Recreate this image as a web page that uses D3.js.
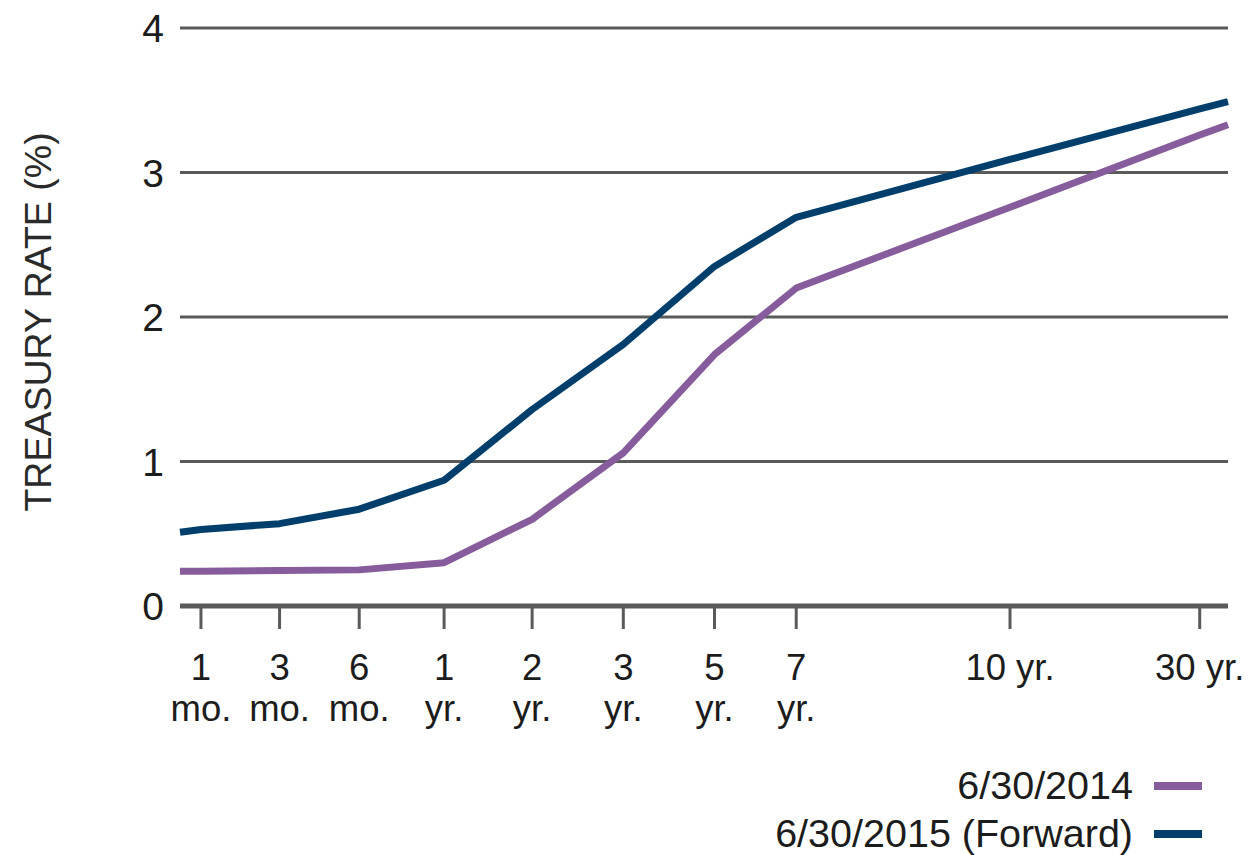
<!DOCTYPE html>
<html>
<head>
<meta charset="utf-8">
<script src="https://cdn.jsdelivr.net/npm/d3@7"></script>
<style>
  html, body { margin: 0; padding: 0; background: #ffffff; }
  svg { display: block; }
  text { font-family: "Liberation Sans", Arial, sans-serif; fill: #1c1c1c; }
</style>
</head>
<body>
<svg id="chart" width="1249" height="855"></svg>
<script>
// ---- data ----
const categories = ["1 mo.", "3 mo.", "6 mo.", "1 yr.", "2 yr.", "3 yr.", "5 yr.", "7 yr.", "10 yr.", "30 yr."];
const tickLines = [["1", "mo."], ["3", "mo."], ["6", "mo."], ["1", "yr."], ["2", "yr."], ["3", "yr."], ["5", "yr."], ["7", "yr."], ["10 yr."], ["30 yr."]];
// position of each maturity along the (non-uniform) axis, in percent of axis length
const categoryPos = [2.0, 9.5, 17.1, 25.2, 33.6, 42.3, 51.0, 58.8, 79.2, 97.3];
const rates2014 = [0.24, 0.245, 0.25, 0.30, 0.60, 1.06, 1.74, 2.20, 2.76, 3.26];
const rates2015 = [0.53, 0.57, 0.67, 0.87, 1.36, 1.81, 2.35, 2.69, 3.09, 3.44];
// values where the curves meet the left and right edge of the plot
const edges2014 = [0.24, 3.33];
const edges2015 = [0.51, 3.49];
const yTicks = [0, 1, 2, 3, 4];
const seriesNames = ["6/30/2014", "6/30/2015 (Forward)"];
const seriesColors = ["#875c9c", "#003f6c"];

// ---- layout ----
const svg = d3.select("#chart");
const plotL = 180, plotR = 1228, plotT = 28, plotB = 606;

const x = d3.scaleLinear().domain([0, 100]).range([plotL, plotR]);
const y = d3.scaleLinear().domain([0, 4]).range([plotB, plotT]);

// gridlines
svg.append("g")
  .selectAll("line")
  .data(yTicks.filter(d => d > 0))
  .join("line")
  .attr("x1", x(0)).attr("x2", x(100))
  .attr("y1", d => y(d)).attr("y2", d => y(d))
  .attr("stroke", "#5a5a5a").attr("stroke-width", 3);

// y-axis labels
svg.append("g")
  .selectAll("text")
  .data(yTicks)
  .join("text")
  .attr("x", 164)
  .attr("y", d => y(d))
  .attr("dy", "0.36em")
  .attr("text-anchor", "end")
  .attr("font-size", 39)
  .text(d => d);

// y title
svg.append("text")
  .attr("transform", `translate(51, ${(y(0) + y(4)) / 2 + 5}) rotate(-90)`)
  .attr("text-anchor", "middle")
  .attr("font-size", 37.5)
  .style("fill", "#2a2a2a")
  .text("TREASURY RATE (%)");

// x axis baseline
svg.append("line")
  .attr("x1", x(0)).attr("x2", x(100))
  .attr("y1", y(0)).attr("y2", y(0))
  .attr("stroke", "#5a5a5a").attr("stroke-width", 5);

// x ticks
const xt = svg.append("g")
  .selectAll("g")
  .data(categories.map((c, i) => ({ c, i })))
  .join("g")
  .attr("transform", d => `translate(${x(categoryPos[d.i])},0)`);

xt.append("line")
  .attr("y1", y(0) + 2).attr("y2", y(0) + 23)
  .attr("stroke", "#5a5a5a").attr("stroke-width", 3);

xt.append("text")
  .attr("text-anchor", "middle")
  .attr("font-size", 36.5)
  .attr("y", 680)
  .each(function (d) {
    const t = d3.select(this);
    tickLines[d.i].forEach((s, k) => {
      t.append("tspan")
        .attr("x", 0)
        .attr("dy", k === 0 ? 0 : 41)
        .text(s);
    });
  });

// lines
const line = d3.line()
  .x(d => x(d[0]))
  .y(d => y(d[1]))
  .curve(d3.curveLinear);

function buildSeries(vals, edges) {
  return [[0, edges[0]]]
    .concat(vals.map((v, i) => [categoryPos[i], v]))
    .concat([[100, edges[1]]]);
}

const series = [buildSeries(rates2014, edges2014), buildSeries(rates2015, edges2015)];

svg.append("g")
  .selectAll("path")
  .data(series)
  .join("path")
  .attr("d", line)
  .attr("fill", "none")
  .attr("stroke", (d, i) => seriesColors[i])
  .attr("stroke-width", 7)
  .attr("stroke-linejoin", "round");

// legend
const lg = svg.append("g")
  .selectAll("g")
  .data(seriesNames)
  .join("g")
  .attr("transform", (d, i) => `translate(0, ${i * 48})`);

lg.append("text")
  .attr("x", 1133)
  .attr("y", 799)
  .attr("text-anchor", "end")
  .attr("font-size", 39.5)
  .text(d => d);

lg.append("line")
  .attr("x1", 1154).attr("x2", 1202)
  .attr("y1", 786).attr("y2", 786)
  .attr("stroke", (d, i) => seriesColors[i])
  .attr("stroke-width", 8);
</script>
</body>
</html>
